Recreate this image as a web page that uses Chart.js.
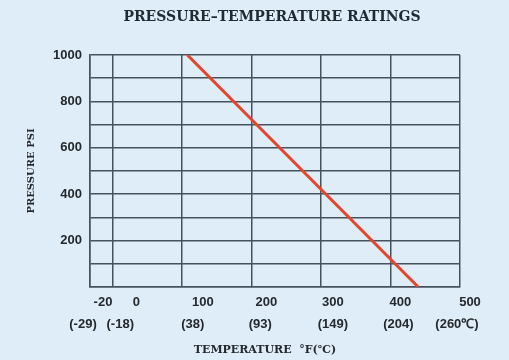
<!DOCTYPE html>
<html>
<head>
<meta charset="utf-8">
<script src="https://cdn.jsdelivr.net/npm/chart.js@4.4.0/dist/chart.umd.min.js"></script>
<style>
    html, body { margin: 0; padding: 0; background: #deedf8; }
    #wrap { width: 509px; height: 360px; }
</style>
</head>
<body>
<div id="wrap"><canvas id="rating-chart"></canvas></div>
<script>
// temperature axis: °F on top line, °C below
var tickF = ['-20', '0', '100', '200', '300', '400', '500'];
var tickC = ['(-29)', '(-18)', '(38)', '(93)', '(149)', '(204)', '(260\u2103)'];
var tickValues = [-32, 0, 100, 200, 300, 400, 500];

// rating line, °F vs psi
var lineTemp = [108, 440];
var linePsi = [1000, 0];

// the printed labels sit a little off their grid lines
var offF = [13, 24, 21, 15, 12, 10, 10];
var offC = [-7, 8, 11, 9, 12, 8, -3];

var gridColor = '#46525c';
var textColor = '#25292d';
var tickFont = 'bold 13px "Liberation Sans"';

var points = [];
for (var i = 0; i < lineTemp.length; i++) {
    points.push({ x: lineTemp[i], y: linePsi[i] });
}

// title, axis caption and the two-row temperature labels
var printedText = {
    id: 'printedText',
    afterDraw: function (chart) {
        var c = chart.ctx;
        var area = chart.chartArea;
        var xs = chart.scales.x;
        var mid = (area.left + area.right) / 2;
        c.save();
        c.fillStyle = '#1f2a33';
        c.font = 'bold 14px "DejaVu Serif"';
        c.textAlign = 'center';
        c.textBaseline = 'middle';
        c.fillText('PRESSURE\u2013TEMPERATURE RATINGS', mid - 3, 17);

        c.fillStyle = textColor;
        c.font = 'bold 11px "DejaVu Serif"';
        c.fillText('TEMPERATURE  \u00b0F(\u2103)', mid - 10, 350);

        c.font = tickFont;
        for (var i = 0; i < tickValues.length; i++) {
            var px = xs.getPixelForValue(tickValues[i]);
            c.fillText(tickF[i], px + offF[i], area.bottom + 15);
            c.fillText(tickC[i], px + offC[i], area.bottom + 37);
        }
        c.restore();
    }
};

var ctx = document.getElementById('rating-chart').getContext('2d');
var myChart = new Chart(ctx, {
    type: 'line',
    data: {
        datasets: [{
            data: points,
            borderColor: '#e2472c',
            borderWidth: 3,
            pointRadius: 0,
            fill: false,
            tension: 0
        }]
    },
    options: {
        responsive: true,
        maintainAspectRatio: false,
        animation: false,
        layout: { padding: { left: 0, right: 49, top: 55, bottom: 0 } },
        plugins: {
            legend: { display: false },
            tooltip: { enabled: false }
        },
        scales: {
            x: {
                type: 'linear',
                min: -32,
                max: 500,
                afterBuildTicks: function (scale) {
                    scale.ticks = tickValues.map(function (v) { return { value: v }; });
                },
                afterFit: function (scale) { scale.height = 73; },
                grid: { color: gridColor, lineWidth: 1.5, drawTicks: false },
                border: { color: gridColor, width: 1.5 },
                ticks: { display: false }
            },
            y: {
                min: 0,
                max: 1000,
                afterFit: function (scale) { scale.width = 90; },
                grid: { color: gridColor, lineWidth: 1.5, drawTicks: false },
                border: { color: gridColor, width: 1.5 },
                ticks: {
                    stepSize: 100,
                    color: textColor,
                    font: { family: 'Liberation Sans', weight: 'bold', size: 13 },
                    padding: 8,
                    callback: function (value) {
                        return (value > 0 && value % 200 === 0) ? value : '';
                    }
                },
                title: {
                    display: true,
                    text: 'PRESSURE PSI',
                    color: textColor,
                    font: { family: 'DejaVu Serif', weight: 'bold', size: 10 },
                    padding: { top: 25, bottom: 0 }
                }
            }
        }
    },
    plugins: [printedText]
});
</script>
</body>
</html>
